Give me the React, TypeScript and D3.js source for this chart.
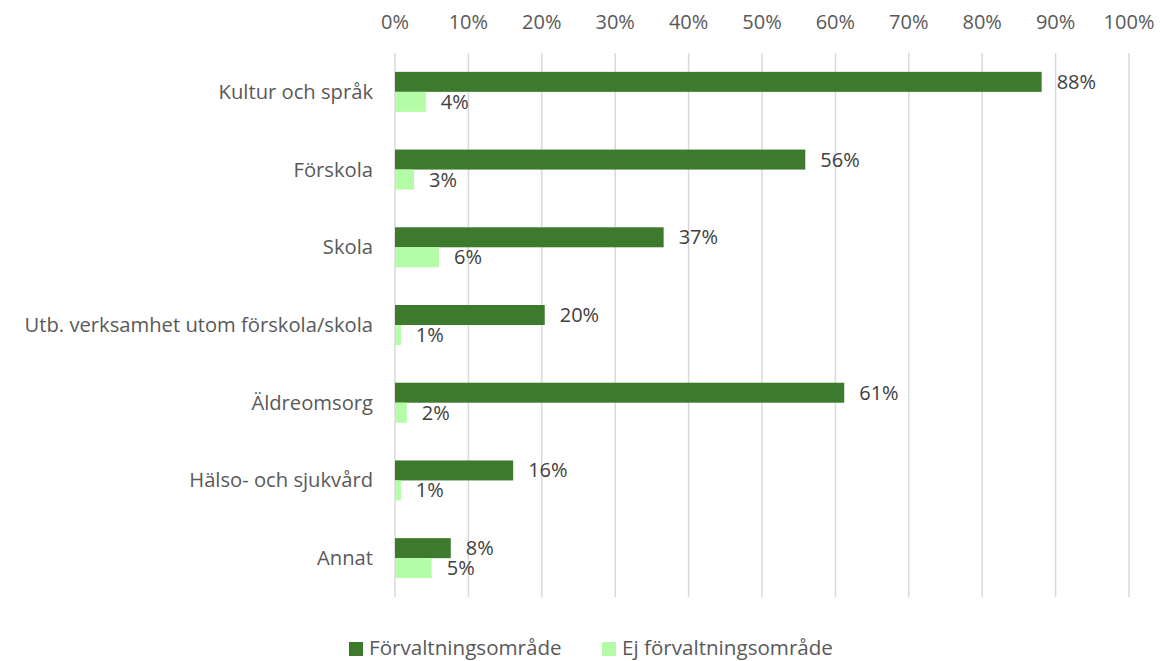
import React from 'react';
import * as d3 from 'd3';

// category names, top to bottom
const categories = [
  'Kultur och språk',
  'Förskola',
  'Skola',
  'Utb. verksamhet utom förskola/skola',
  'Äldreomsorg',
  'Hälso- och sjukvård',
  'Annat',
];
// shares in percent
const forvaltning = [88.1, 55.9, 36.6, 20.4, 61.2, 16.1, 7.6];
const ejForvaltning = [4.2, 2.6, 6.0, 0.8, 1.6, 0.8, 5.0];
const seriesNames = ['Förvaltningsområde', 'Ej förvaltningsområde'];
const xTicks = [0, 10, 20, 30, 40, 50, 60, 70, 80, 90, 100];

const W = 1160;
const H = 661;
const colors = ['#3D7A2E', '#B4FCA8'];
const textColor = '#595959';
const font = '"Open Sans", sans-serif';

function App() {
  const x = d3.scaleLinear().domain([0, 100]).range([395, 1129]);
  const y = d3.scaleBand().domain(categories).range([53, 597]).padding(0);
  const sub = d3.scaleBand().domain(seriesNames).range([-20, 20]);

  const series = [forvaltning, ejForvaltning];

  return (
    <svg width={W} height={H} style={{ position: 'absolute', left: 0, top: 0 }} fontFamily={font}>
      <rect width={W} height={H} fill="#fff" />
      {/* grid */}
      {xTicks.map(t => (
        <g key={t}>
          <line x1={x(t)} x2={x(t)} y1={53} y2={597} stroke="#d9d9d9" strokeWidth={1.5} />
          <text x={x(t)} y={29} textAnchor="middle" fontSize={20} fill={textColor}>{t}%</text>
        </g>
      ))}
      {/* category labels */}
      {categories.map(c => (
        <text key={c} x={373} y={y(c)! + y.bandwidth() / 2} dy="0.35em" textAnchor="end" fontSize={20.2} fill={textColor}>
          {c}
        </text>
      ))}
      {/* bars */}
      {series.map((vals, si) => (
        <g key={si}>
          {categories.map((c, i) => {
            const cy = y(c)! + y.bandwidth() / 2 + sub(seriesNames[si])!;
            return (
              <g key={c}>
                <rect x={x(0)} y={cy} width={x(vals[i]) - x(0)} height={sub.bandwidth()} fill={colors[si]} />
                <text x={x(vals[i]) + 15} y={cy + sub.bandwidth() / 2} dy="0.35em" fontSize={20} fill="#404040">
                  {Math.round(vals[i])}%
                </text>
              </g>
            );
          })}
        </g>
      ))}
      {/* legend */}
      {seriesNames.map((s, i) => {
        const lx = i === 0 ? 349 : 602;
        return (
          <g key={s}>
            <rect x={lx} y={642} width={14} height={14} fill={colors[i]} />
            <text x={lx + 20} y={655} fontSize={20.6} fill={textColor}>{s}</text>
          </g>
        );
      })}
    </svg>
  );
}

export default App;
